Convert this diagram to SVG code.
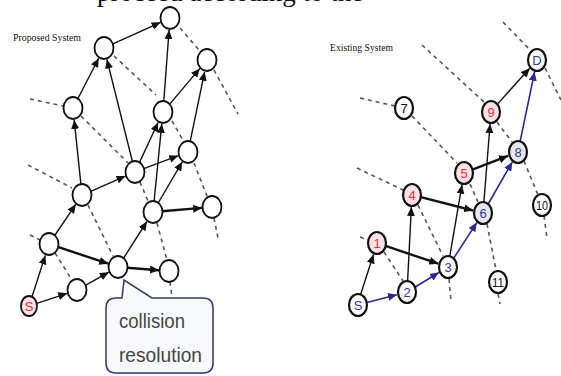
<svg xmlns="http://www.w3.org/2000/svg" width="561" height="376" viewBox="0 0 561 376">
<style>
.node{fill:#fff;stroke:#111;stroke-width:1.8}
.rnode{fill:#fff;stroke:#111;stroke-width:2.2}
.pink{fill:#fbe1e6}
.grey{fill:#e6e8f0}
.e{stroke:#111;stroke-width:1.4;fill:none;marker-end:url(#ah)}
.b{stroke-width:2.4}
.blue{stroke:#2a2a8a;stroke-width:1.6;fill:none;marker-end:url(#bh)}
.arc{stroke:#555;stroke-width:1.6;fill:none;stroke-dasharray:4 4}
.lab{font-family:"Liberation Serif",serif;font-size:10px;fill:#111}
.num{font-family:"Liberation Sans",Arial,sans-serif;font-size:13px;text-anchor:middle}
.red{fill:#e0303c}
.bl{fill:#2f3a9a}
.bk{fill:#111}
.co{font-family:"Liberation Sans",Arial,sans-serif;font-size:20px;fill:#444}
</style>
<defs>
<marker id="ah" markerUnits="userSpaceOnUse" markerWidth="10" markerHeight="8" refX="9" refY="4" orient="auto"><path d="M0,0 L9,4 L0,8 Z" fill="#111"/></marker>
<marker id="bh" markerUnits="userSpaceOnUse" markerWidth="10" markerHeight="8" refX="9" refY="4" orient="auto"><path d="M0,0 L9,4 L0,8 Z" fill="#2a2a8a"/></marker>
</defs>
<rect width="561" height="376" fill="#fff"/>
<text x="97" y="0.5" font-family="Liberation Serif,serif" font-size="27" fill="#111">proceed according to the</text>
<text class="lab" x="13" y="41" textLength="68" lengthAdjust="spacingAndGlyphs">Proposed System</text>
<text class="lab" x="330" y="51" textLength="63" lengthAdjust="spacingAndGlyphs">Existing System</text>

<g id="arcs">
<path class="arc" d="M30,235 L40,240 M55,253 L72,280"/>
<path class="arc" d="M28,165 L72,188 M88,205 L113,256"/>
<path class="arc" d="M30,99 L63,106 M81,116 L128,163 M140,182 L148,201 M157,223 L167,260 M170,282 L172,297"/>
<path class="arc" d="M114,56 L156,95 M172,121 L184,142 M194,163 L207,196 M214,218 L218,238"/>
<path class="arc" d="M180,28 L199,50 M214,70 L238,114"/>
<path class="arc" d="M360,237 L368,240 M384,252 L403,281"/>
<path class="arc" d="M357,168 L403,190 M418,205 L443,256 M449,279 L451,300"/>
<path class="arc" d="M360,98 L395,106 M412,116 L457,163 M470,184 L478,202 M487,224 L496,270 M498,294 L500,304"/>
<path class="arc" d="M422,45 L484,102 M497,122 L512,142 M524,161 L538,195 M544,216 L547,238"/>
<path class="arc" d="M503,22 L530,50 M545,68 L561,100"/>
</g>

<g id="connectors">
<line class="e" x1="112.4" y1="44.2" x2="160.6" y2="22.3"/>
<line class="e" x1="77.8" y1="98.7" x2="98.7" y2="58.2"/>
<line class="e" x1="132.4" y1="161.5" x2="106.9" y2="59.4"/>
<line class="e" x1="163.8" y1="101" x2="169.1" y2="30"/>
<line class="e" x1="169.5" y1="104.4" x2="199.9" y2="68.4"/>
<line class="e" x1="190.2" y1="141.3" x2="204.6" y2="71.8"/>
<line class="e" x1="139.5" y1="162.4" x2="158.1" y2="122.5"/>
<line class="e" x1="143.8" y1="168.7" x2="178.3" y2="155.7"/>
<line class="e" x1="80.9" y1="184.1" x2="74.2" y2="119.9"/>
<line class="e" x1="90.6" y1="191.3" x2="125.5" y2="176.1"/>
<line class="e" x1="154.1" y1="201" x2="161.8" y2="123.9"/>
<line class="e" x1="158.2" y1="203" x2="182.3" y2="161.8"/>
<line class="e b" x1="162" y1="211.2" x2="202" y2="207.9"/>
<line class="e" x1="54.7" y1="235.5" x2="75.8" y2="204.3"/>
<line class="e b" x1="57.8" y1="246.9" x2="108.2" y2="263.7"/>
<line class="e" x1="123.5" y1="258.3" x2="146.9" y2="221.5"/>
<line class="e b" x1="127" y1="267.7" x2="159" y2="270.2"/>
<line class="e" x1="85.4" y1="285.3" x2="108.8" y2="272.2"/>
<line class="e" x1="32" y1="296.7" x2="45.3" y2="255.4"/>
<line class="e" x1="36.8" y1="303.4" x2="67.2" y2="293.3"/>

<line class="e" x1="360.6" y1="294.5" x2="373.5" y2="254.5"/>
<line class="blue" x1="366.9" y1="302.6" x2="397" y2="294.7"/>
<line class="blue" x1="414.8" y1="287.2" x2="439" y2="272.5"/>
<line class="blue" x1="453.6" y1="258.4" x2="476.8" y2="222.6"/>
<line class="blue" x1="488.2" y1="204" x2="512.3" y2="161.9"/>
<line class="blue" x1="520.2" y1="141.2" x2="534.6" y2="71.8"/>
<line class="e" x1="407.6" y1="281" x2="411.4" y2="207"/>
<line class="e b" x1="385.5" y1="245.9" x2="438.3" y2="263.7"/>
<line class="e b" x1="420.8" y1="197.2" x2="473.1" y2="210.5"/>
<line class="e" x1="449.8" y1="256.2" x2="462" y2="184.8"/>
<line class="e b" x1="472.4" y1="169.7" x2="508" y2="155.9"/>
<line class="e" x1="483.9" y1="202" x2="490.1" y2="124"/>
<line class="e" x1="497" y1="104.6" x2="529.7" y2="68.2"/>
</g>

<g id="p1"><ellipse class="node" cx="170" cy="18" rx="9.5" ry="11"/></g>
<g id="p2"><ellipse class="node" cx="104" cy="48" rx="9.5" ry="11"/></g>
<g id="p3"><ellipse class="node" cx="207" cy="60" rx="9.5" ry="11"/></g>
<g id="p4"><ellipse class="node" cx="73" cy="108" rx="9.5" ry="11"/></g>
<g id="p5"><ellipse class="node" cx="163" cy="112" rx="9.5" ry="11"/></g>
<g id="p6"><ellipse class="node" cx="188" cy="152" rx="9.5" ry="11"/></g>
<g id="p7"><ellipse class="node" cx="135" cy="172" rx="9.5" ry="11"/></g>
<g id="p8"><ellipse class="node" cx="82" cy="195" rx="9.5" ry="11"/></g>
<g id="p9"><ellipse class="node" cx="153" cy="212" rx="9.5" ry="11"/></g>
<g id="p10"><ellipse class="node" cx="212" cy="207" rx="9.5" ry="11"/></g>
<g id="p11"><ellipse class="node" cx="49" cy="244" rx="9.5" ry="11"/></g>
<g id="p12"><ellipse class="node" cx="118" cy="267" rx="9.5" ry="11"/></g>
<g id="p13"><ellipse class="node" cx="169" cy="271" rx="9.5" ry="11"/></g>
<g id="p14"><ellipse class="node" cx="77" cy="290" rx="9.5" ry="11"/></g>
<g id="ps"><ellipse class="node pink" cx="29" cy="306" rx="8" ry="10"/><text class="num red" x="29" y="310.5" font-size="11">S</text></g>

<g id="callout">
<path d="M116,298 L122,298 L124,280 L152,298 L203,298 Q213,298 213,308 L213,363 Q213,373 203,373 L116,373 Q106,373 106,363 L106,308 Q106,298 116,298 Z" fill="#f7f9fd" stroke="#2d3a6a" stroke-width="1.5"/>
<text class="co" x="119" y="328" textLength="66" lengthAdjust="spacingAndGlyphs">collision</text>
<text class="co" x="119" y="362" textLength="83" lengthAdjust="spacingAndGlyphs">resolution</text>
</g>

<g id="rD"><ellipse class="rnode" cx="537" cy="60" rx="9" ry="11"/><text class="num bl" x="537" y="64.5">D</text></g>
<g id="r9"><ellipse class="rnode pink" cx="491" cy="112" rx="9" ry="11"/><text class="num red" x="491" y="116.5">9</text></g>
<g id="r7"><ellipse class="rnode" cx="404" cy="108" rx="9" ry="11"/><text class="num bk" x="404" y="112.5">7</text></g>
<g id="r8"><ellipse class="rnode grey" cx="518" cy="152" rx="9" ry="11"/><text class="num bl" x="518" y="156.5">8</text></g>
<g id="r5"><ellipse class="rnode pink" cx="464" cy="173" rx="9" ry="11"/><text class="num red" x="464" y="177.5">5</text></g>
<g id="r4"><ellipse class="rnode pink" cx="412" cy="195" rx="9" ry="11"/><text class="num red" x="412" y="199.5">4</text></g>
<g id="r6"><ellipse class="rnode grey" cx="483" cy="213" rx="9" ry="11"/><text class="num bl" x="483" y="217.5">6</text></g>
<g id="r10"><ellipse class="rnode" cx="542" cy="205" rx="9" ry="11"/><text class="num bk" x="542" y="209.5" textLength="12" lengthAdjust="spacingAndGlyphs">10</text></g>
<g id="r1"><ellipse class="rnode pink" cx="377" cy="243" rx="9" ry="11"/><text class="num red" x="377" y="247.5">1</text></g>
<g id="r3"><ellipse class="rnode" cx="448" cy="267" rx="9" ry="11"/><text class="num bl" x="448" y="271.5">3</text></g>
<g id="r11"><ellipse class="rnode" cx="498" cy="282" rx="9" ry="11"/><text class="num bk" x="498" y="286.5" textLength="12" lengthAdjust="spacingAndGlyphs">11</text></g>
<g id="r2"><ellipse class="rnode" cx="407" cy="292" rx="9" ry="11"/><text class="num bl" x="407" y="296.5">2</text></g>
<g id="rS"><ellipse class="rnode" cx="358" cy="305" rx="9" ry="11"/><text class="num bl" x="358" y="309.5">S</text></g>
</svg>
